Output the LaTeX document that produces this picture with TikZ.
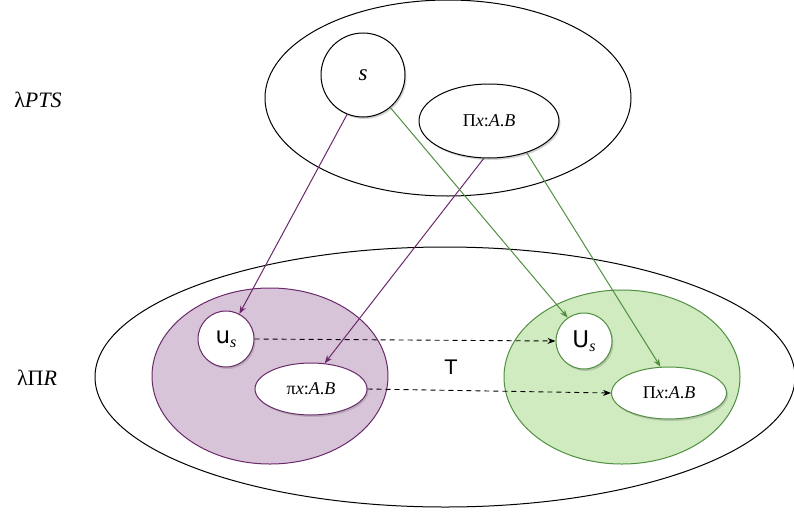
\documentclass[tikz,border=0pt]{standalone}
\usepackage{fontspec}
\setmainfont{Liberation Serif}
\setsansfont{DejaVu Sans}
\usetikzlibrary{shapes.geometric,shadows,arrows.meta}
\definecolor{purp}{HTML}{6A2A6A}
\definecolor{purpfill}{HTML}{D8C4D8}
\definecolor{grn}{HTML}{4F8F40}
\definecolor{grnfill}{HTML}{D1EBC0}
\begin{document}
\begin{tikzpicture}[x=1pt,y=-1pt,
  big/.style={draw=black,ellipse,line width=1pt},
  inner/.style={ellipse,draw,fill=white,line width=1pt,drop shadow={shadow xshift=1.5pt,shadow yshift=-2pt,opacity=0.35}},
  parr/.style={draw=purp,line width=1pt,-{Stealth[length=8pt,width=6pt]}},
  garr/.style={draw=grn,line width=1pt,-{Stealth[length=8pt,width=6pt]}},
  darr/.style={draw=black,line width=0.9pt,dashed,dash pattern=on 5pt off 4pt,-{Stealth[length=8pt,width=6pt]}},
  lab/.style={font=\fontsize{22}{24}\selectfont},
  tx/.style={font=\fontsize{18}{20}\selectfont}
]
\useasboundingbox (0,0) rectangle (794,514);
% big ellipses
\node[big,minimum width=366pt,minimum height=196pt] (top) at (448,98) {};
\node[big,minimum width=700pt,minimum height=260pt] (bot) at (445,377) {};
\node[ellipse,draw=purp,fill=purpfill,line width=1pt,minimum width=236pt,minimum height=176pt] (pe) at (270,376) {};
\node[ellipse,draw=grn,fill=grnfill,line width=1pt,minimum width=236pt,minimum height=174pt] (ge) at (622,377) {};
% labels
\node[lab] (l1) at (38,100) {λ\textit{PTS}};
\node[lab] (l2) at (37,378) {λΠ\textit{R}};
\node[font=\sffamily\fontsize{20}{22}\selectfont] (T) at (451,367) {T};
% inner nodes
\node[inner,circle,minimum size=84pt,inner sep=0pt] (s) at (363,75) {\fontsize{23}{24}\selectfont\textit{s}};
\node[inner,tx,minimum width=140pt,minimum height=74pt,inner sep=0pt] (pt) at (489,121) {Π\textit{x}:\textit{A}.\textit{B}};
\node[inner,draw=purp,circle,minimum size=56pt,inner sep=0pt] (us) at (226,339) {\sffamily\fontsize{23}{24}\selectfont u\raisebox{-4pt}{\rmfamily\fontsize{16}{16}\selectfont\textit{s}}};
\node[inner,tx,draw=purp,minimum width=112pt,minimum height=52pt,inner sep=0pt] (pl) at (311,389) {π\textit{x}:\textit{A}.\textit{B}};
\node[inner,draw=grn,circle,minimum size=56pt,inner sep=0pt] (Us) at (584,341) {\sffamily\fontsize{23}{24}\selectfont U\raisebox{-4pt}{\rmfamily\fontsize{16}{16}\selectfont\textit{s}}};
\node[inner,tx,draw=grn,minimum width=115pt,minimum height=52pt,inner sep=0pt] (PR) at (669,393) {Π\textit{x}:\textit{A}.\textit{B}};
% arrows
\draw[parr] (s.248) -- (us.62);
\draw[parr] (pt.262) -- (pl.62);
\draw[garr] (s.-50) -- (Us.125);
\draw[garr] (pt.-40) -- (PR.108);
\draw[darr] (us.east) -- (Us.west);
\draw[darr] (pl.east) -- (PR.west);
\end{tikzpicture}
\end{document}
